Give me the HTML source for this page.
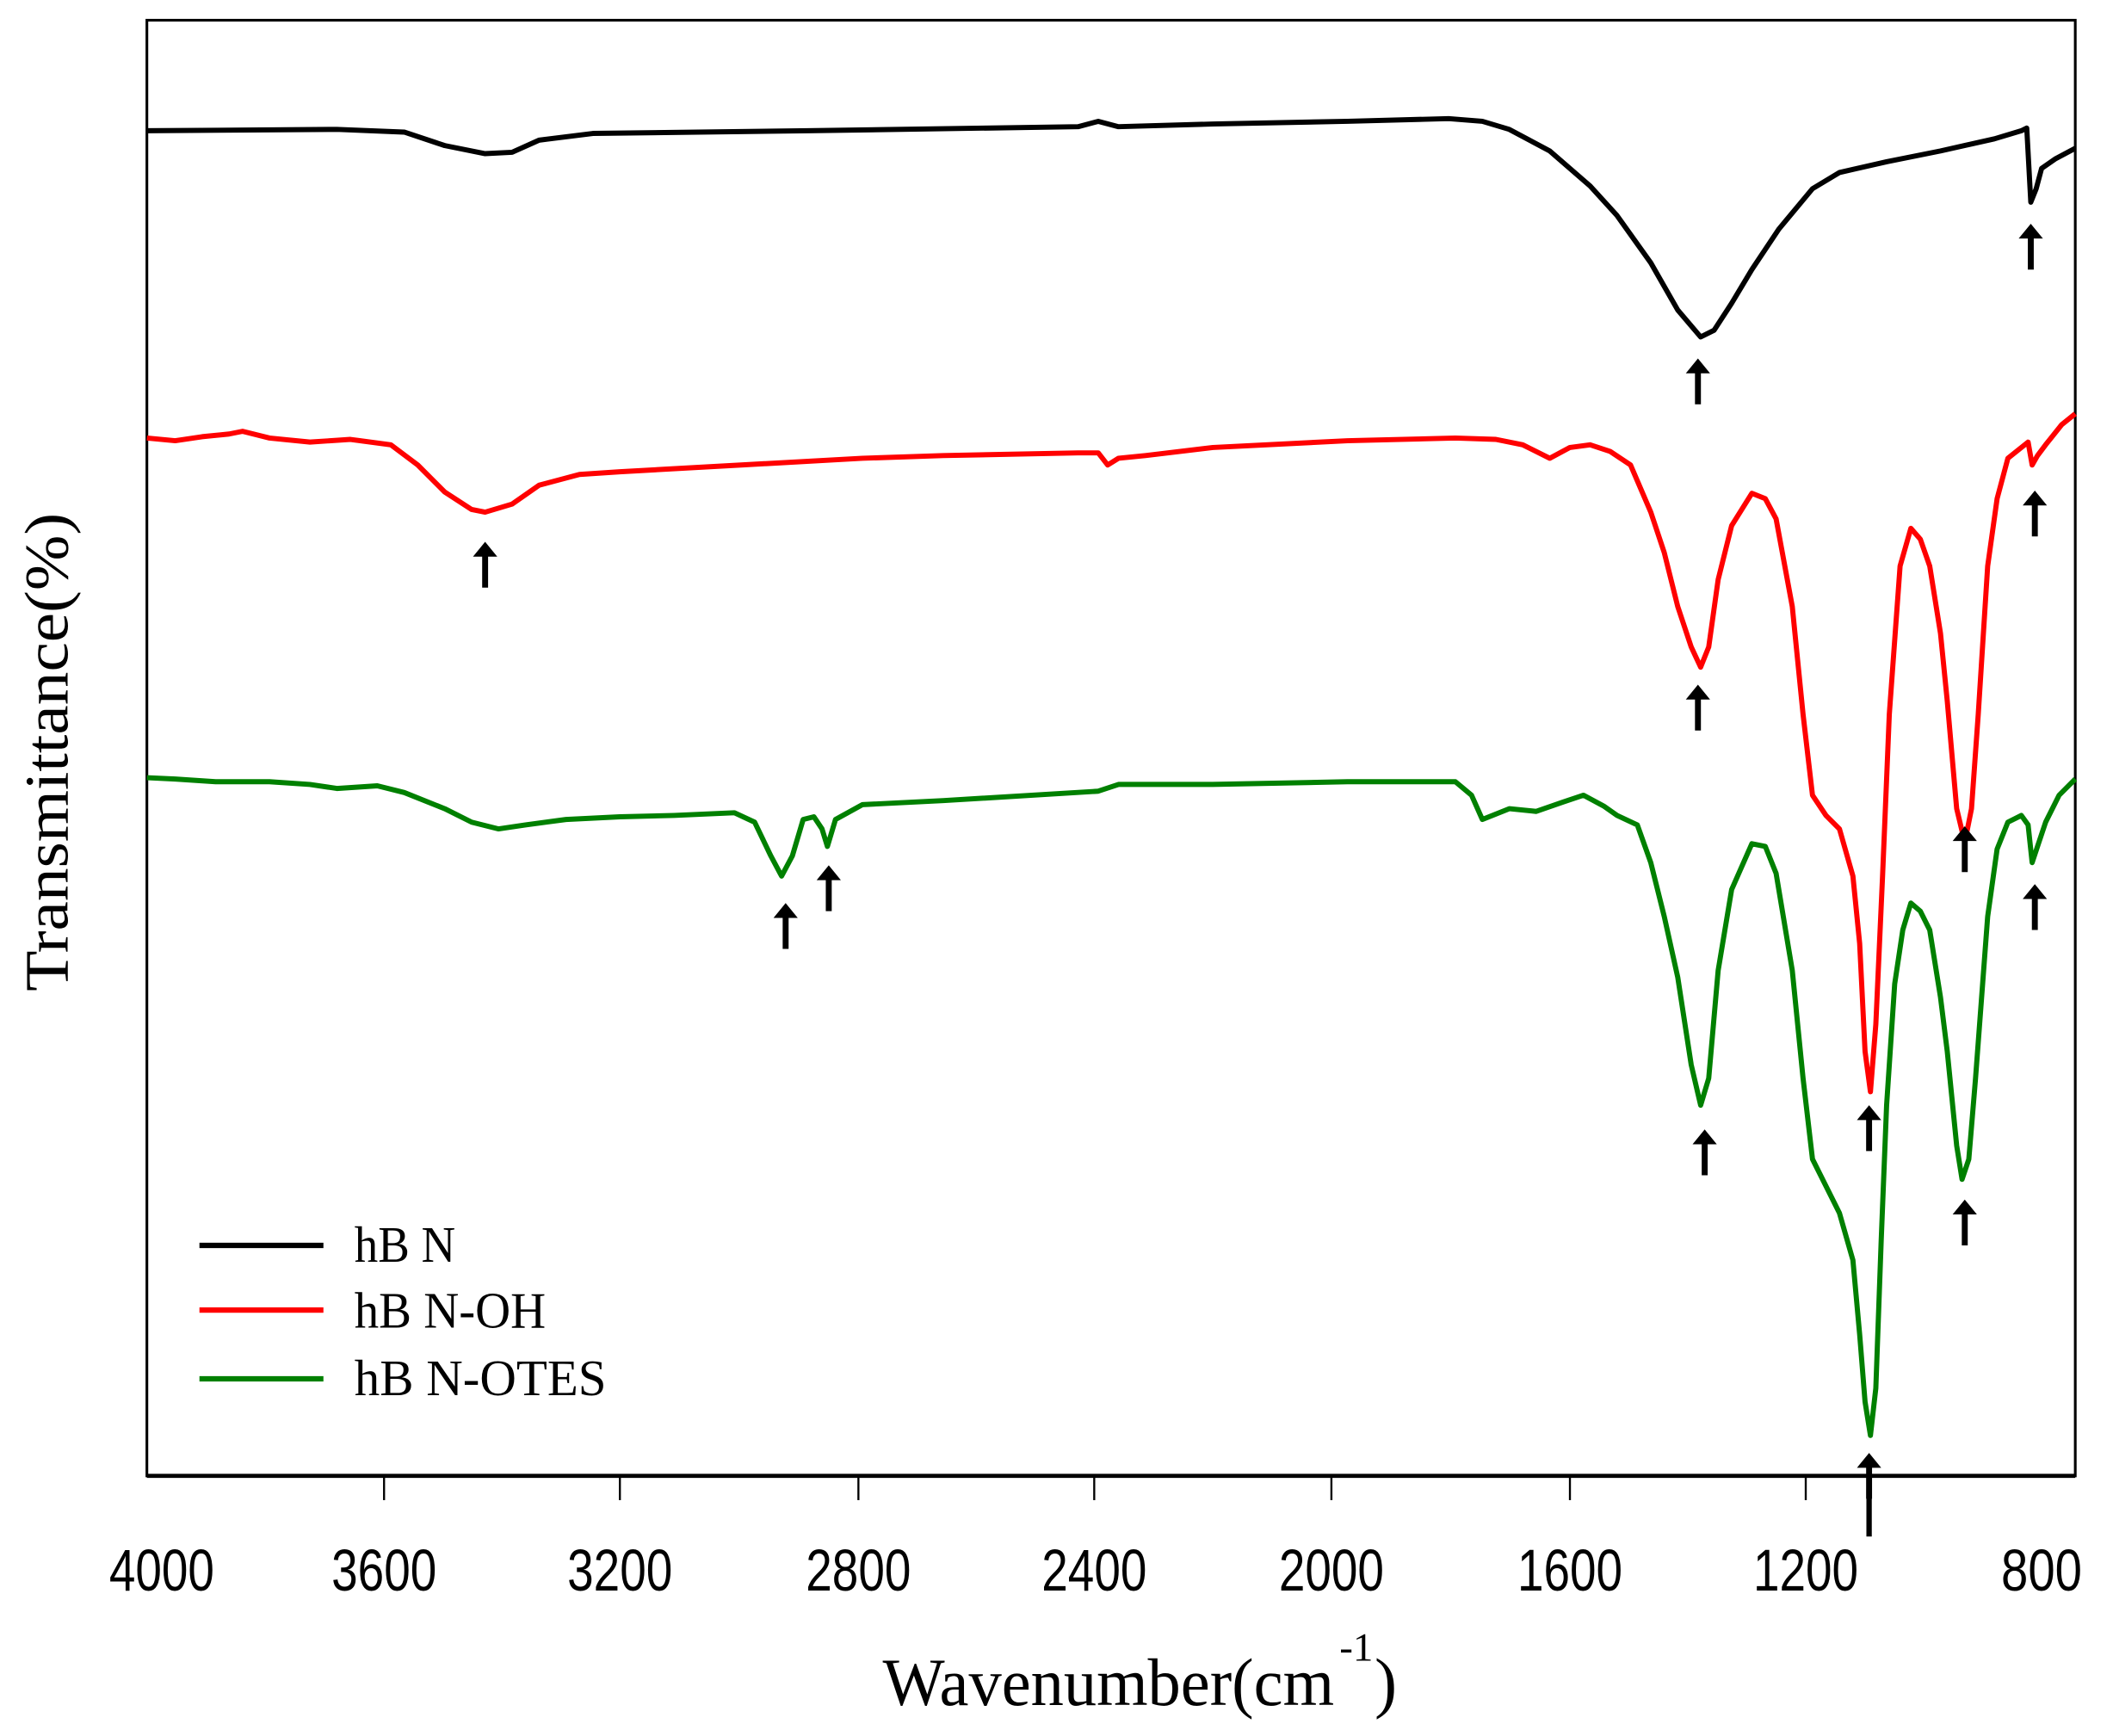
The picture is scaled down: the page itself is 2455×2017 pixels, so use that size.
<!DOCTYPE html>
<html><head><meta charset="utf-8"><style>html,body{margin:0;padding:0;background:#fff}svg{display:block}</style></head>
<body>
<svg width="2455" height="2017" viewBox="0 0 1568 1288" preserveAspectRatio="none" xmlns="http://www.w3.org/2000/svg">
<defs>
<g id="ar"><path d="M0,0 L-9,11 L-2.2,11 L-2.2,34 L2.2,34 L2.2,11 L9,11 Z" fill="#000"/></g>
</defs>
<rect x="109" y="15" width="1431" height="1080" fill="none" stroke="#000" stroke-width="2"/>
<line x1="109" y1="1095" x2="1540" y2="1095" stroke="#000" stroke-width="3"/>
<g stroke="#000" stroke-width="1.5">
<line x1="285" y1="1095" x2="285" y2="1113"/><line x1="460" y1="1095" x2="460" y2="1113"/>
<line x1="637" y1="1095" x2="637" y2="1113"/><line x1="812" y1="1095" x2="812" y2="1113"/>
<line x1="988" y1="1095" x2="988" y2="1113"/><line x1="1165" y1="1095" x2="1165" y2="1113"/>
<line x1="1340" y1="1095" x2="1340" y2="1113"/>
</g>
<g font-family="Liberation Sans, sans-serif" font-size="44" text-anchor="middle" fill="#000">
<text x="120" y="1180" textLength="78" lengthAdjust="spacingAndGlyphs">4000</text>
<text x="285" y="1180" textLength="78" lengthAdjust="spacingAndGlyphs">3600</text>
<text x="460" y="1180" textLength="78" lengthAdjust="spacingAndGlyphs">3200</text>
<text x="637" y="1180" textLength="78" lengthAdjust="spacingAndGlyphs">2800</text>
<text x="812" y="1180" textLength="78" lengthAdjust="spacingAndGlyphs">2400</text>
<text x="988" y="1180" textLength="78" lengthAdjust="spacingAndGlyphs">2000</text>
<text x="1165" y="1180" textLength="78" lengthAdjust="spacingAndGlyphs">1600</text>
<text x="1340" y="1180" textLength="78" lengthAdjust="spacingAndGlyphs">1200</text>
<text x="1515" y="1180" textLength="60" lengthAdjust="spacingAndGlyphs">800</text>
</g>
<g font-family="Liberation Serif, serif" fill="#000">
<text x="655" y="1265" font-size="50" textLength="335" lengthAdjust="spacingAndGlyphs">Wavenumber(cm</text>
<text x="994" y="1232" font-size="30">-1</text>
<text x="1020" y="1265" font-size="50">)</text>
<text transform="translate(50,558) rotate(-90)" font-size="46" text-anchor="middle" textLength="355" lengthAdjust="spacingAndGlyphs">Transmittance(%)</text>
<text x="263" y="936" font-size="38" textLength="75" lengthAdjust="spacingAndGlyphs">hB N</text>
<text x="263" y="985" font-size="38" textLength="142" lengthAdjust="spacingAndGlyphs">hB N-OH</text>
<text x="263" y="1035" font-size="38" textLength="187" lengthAdjust="spacingAndGlyphs">hB N-OTES</text>
</g>
<line x1="148" y1="924" x2="240" y2="924" stroke="#000" stroke-width="4"/>
<line x1="148" y1="972" x2="240" y2="972" stroke="#f00" stroke-width="4"/>
<line x1="148" y1="1023" x2="240" y2="1023" stroke="#008000" stroke-width="4"/>
<g fill="none" stroke-width="3.8" stroke-linejoin="round">
<polyline stroke="#000" points="109,97 250,96 300,98 330,108 360,114 380,113 400,104 440,99 600,97 800,94 815,90 830,94 900,92 1000,90 1075,88 1100,90 1120,96 1150,112 1180,138 1200,160 1225,195 1245,230 1262,250 1272,245 1285,225 1300,200 1320,170 1345,140 1365,128 1400,120 1440,112 1480,103 1500,97 1504,95 1507,150 1511,140 1515,125 1525,118 1540,110"/>
<polyline stroke="#f00" points="109,325 130,327 150,324 170,322 180,320 200,325 230,328 260,326 290,330 310,345 330,365 350,378 360,380 380,374 400,360 430,352 460,350 550,345 640,340 700,338 800,336 815,336 822,345 830,340 850,338 900,332 1000,327 1080,325 1110,326 1130,330 1150,340 1165,332 1180,330 1195,335 1210,345 1225,380 1235,410 1245,450 1255,480 1262,495 1268,480 1275,430 1285,390 1300,366 1310,370 1318,385 1330,450 1338,530 1345,590 1355,605 1365,615 1375,650 1380,700 1384,780 1388,810 1392,760 1397,650 1402,530 1410,420 1418,392 1425,400 1432,420 1440,470 1445,520 1452,600 1458,625 1463,600 1468,530 1475,420 1482,370 1490,340 1500,332 1505,328 1508,345 1512,338 1518,330 1530,315 1540,307"/>
<polyline stroke="#008000" points="109,577 130,578 160,580 200,580 230,582 250,585 280,583 300,588 330,600 350,610 370,615 390,612 420,608 460,606 500,605 545,603 560,610 572,635 580,650 588,635 596,608 604,606 610,615 614,628 620,608 640,597 700,594 815,587 830,582 900,582 1000,580 1080,580 1092,590 1100,608 1110,604 1120,600 1140,602 1160,595 1175,590 1190,598 1200,605 1215,612 1225,640 1235,680 1245,725 1255,790 1262,820 1268,800 1275,720 1285,660 1300,626 1310,628 1318,648 1330,720 1338,800 1345,860 1355,880 1365,900 1375,935 1380,990 1384,1040 1388,1065 1392,1030 1396,920 1400,820 1406,730 1412,690 1418,670 1425,676 1432,690 1440,740 1445,780 1452,850 1456,875 1461,860 1466,800 1475,680 1482,630 1490,610 1500,605 1505,612 1508,640 1513,625 1518,610 1528,590 1540,578"/>
</g>
<use href="#ar" x="1260" y="266"/>
<use href="#ar" x="1507" y="166"/>
<use href="#ar" x="360" y="402"/>
<use href="#ar" x="1260" y="508"/>
<use href="#ar" x="1510" y="364"/>
<use href="#ar" x="1458" y="613"/>
<use href="#ar" x="1387" y="820"/>
<use href="#ar" x="583" y="670"/>
<use href="#ar" x="615" y="642"/>
<use href="#ar" x="1265" y="838"/>
<use href="#ar" x="1458" y="890"/>
<use href="#ar" x="1510" y="656"/>
<use href="#ar" x="1387" y="1078"/>
<rect x="1385" y="1105" width="4" height="35" fill="#000"/>
</svg>
</body></html>
